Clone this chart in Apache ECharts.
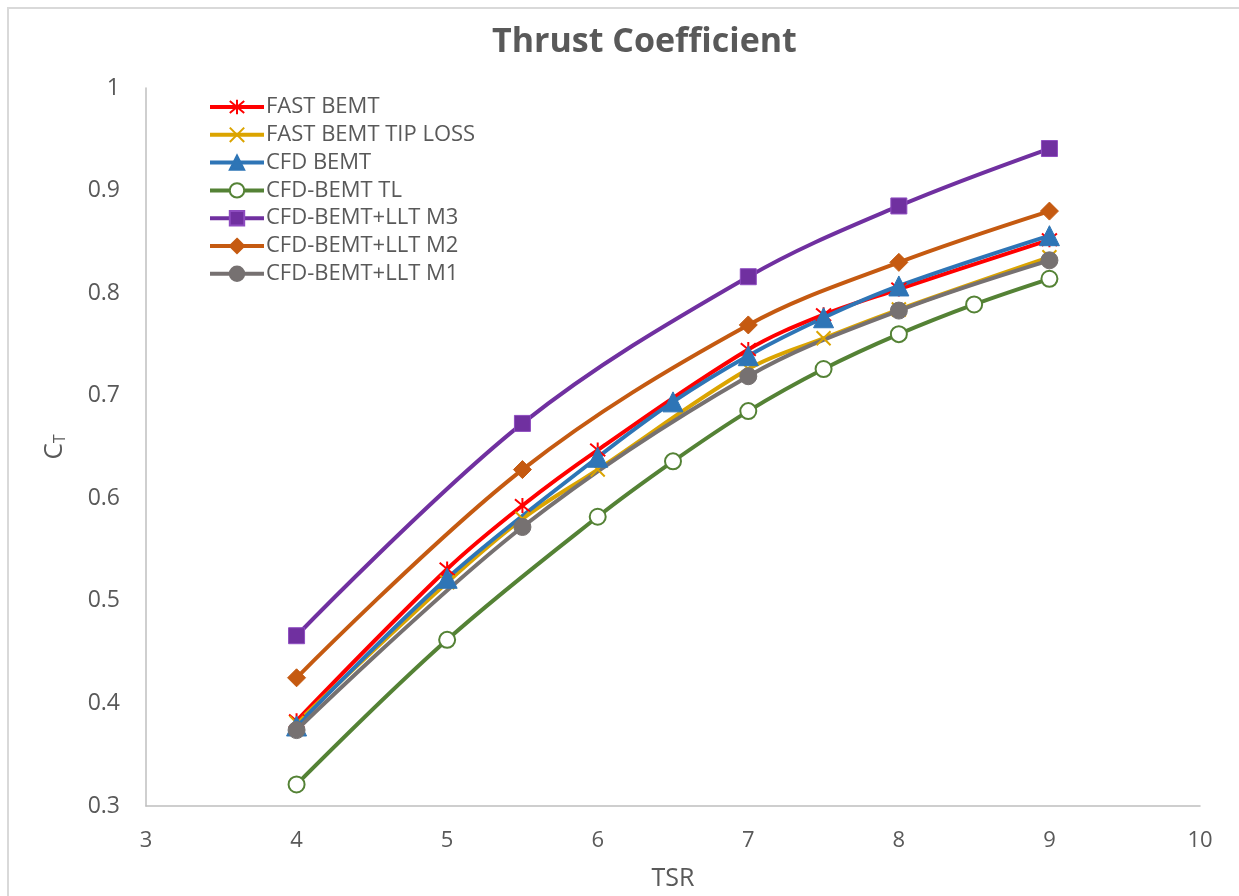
<!DOCTYPE html>
<html>
<head>
<meta charset="utf-8">
<script src="https://cdn.jsdelivr.net/npm/echarts@6/dist/echarts.min.js"></script>
<style>
  html, body { margin: 0; padding: 0; background: #fff; }
  #chart { width: 1239px; height: 896px; }
</style>
</head>
<body>
<div id="chart"></div>
<script>
// Thrust coefficient C_T versus tip speed ratio (TSR)
const fastBemtX = [4, 5, 5.5, 6, 7, 7.5, 8, 9];
const fastBemtY = [0.383, 0.531, 0.593, 0.647, 0.745, 0.779, 0.804, 0.852];

const fastTipLossX = [4, 5, 5.5, 6, 7, 7.5, 8, 9];
const fastTipLossY = [0.381, 0.518, 0.580, 0.628, 0.726, 0.756, 0.784, 0.835];

const cfdBemtX = [4, 5, 6, 6.5, 7, 7.5, 8, 9];
const cfdBemtY = [0.378, 0.522, 0.640, 0.694, 0.739, 0.776, 0.807, 0.856];

const cfdTlX = [4, 5, 6, 6.5, 7, 7.5, 8, 8.5, 9];
const cfdTlY = [0.321, 0.462, 0.582, 0.636, 0.685, 0.726, 0.760, 0.789, 0.814];

const lltM3X = [4, 5.5, 7, 8, 9];
const lltM3Y = [0.466, 0.673, 0.816, 0.885, 0.941];

const lltM2X = [4, 5.5, 7, 8, 9];
const lltM2Y = [0.425, 0.628, 0.769, 0.830, 0.880];

const lltM1X = [4, 5.5, 7, 8, 9];
const lltM1Y = [0.374, 0.572, 0.719, 0.783, 0.832];

const seriesNames = [
  'FAST BEMT',
  'FAST BEMT TIP LOSS',
  'CFD BEMT',
  'CFD-BEMT TL',
  'CFD-BEMT+LLT M3',
  'CFD-BEMT+LLT M2',
  'CFD-BEMT+LLT M1'
];

const pairs = (xs, ys) => xs.map((x, i) => [x, ys[i]]);

const FONT = '"Open Sans", "Liberation Sans", sans-serif';
const TEXT = '#595959';

const STAR = 'path://M0,0L10,10M10,0L0,10M5,-1L5,11';
const CROSS = 'path://M0,0L10,10M10,0L0,10';

function lineSeries(name, data, color, symbol, size, extra) {
  return Object.assign({
    name: name,
    type: 'line',
    data: data,
    smooth: 0.35,
    symbol: symbol,
    symbolSize: size,
    showSymbol: true,
    lineStyle: { color: color, width: 4 },
    itemStyle: { color: color, borderColor: color, borderWidth: 1 },
    emphasis: { disabled: true }
  }, extra || {});
}

const chart = echarts.init(document.getElementById('chart'), null, { renderer: 'canvas' });

chart.setOption({
  animation: false,
  backgroundColor: '#ffffff',
  title: {
    text: 'Thrust Coefficient',
    left: 487,
    top: 20,
    textStyle: { fontFamily: FONT, fontSize: 34, fontWeight: 'bold', color: TEXT }
  },
  graphic: [{
    type: 'rect',
    shape: { x: 8, y: 8, width: 1250, height: 910 },
    style: { fill: 'none', stroke: '#d9d9d9', lineWidth: 2 },
    silent: true
  }],
  legend: {
    orient: 'vertical',
    left: 203,
    top: 91,
    itemWidth: 54,
    itemHeight: 18,
    itemGap: 5.8,
    data: seriesNames,
    lineStyle: { width: 4 },
    textStyle: { fontFamily: FONT, fontSize: 22, lineHeight: 22, color: TEXT, padding: [0, 0, 0, -3] }
  },
  grid: { left: 146, right: 39, top: 88, bottom: 86 },
  xAxis: {
    type: 'value',
    min: 3,
    max: 10,
    interval: 1,
    name: 'TSR',
    nameLocation: 'middle',
    nameGap: 60,
    nameTextStyle: { fontFamily: FONT, fontSize: 25, color: TEXT },
    axisLine: { show: true, lineStyle: { color: '#bfbfbf', width: 1.5 } },
    axisTick: { show: false },
    splitLine: { show: false },
    axisLabel: { fontFamily: FONT, fontSize: 22, color: TEXT, margin: 24 }
  },
  yAxis: {
    type: 'value',
    min: 0.3,
    max: 1,
    interval: 0.1,
    name: '{c|C}{t|T}',
    nameLocation: 'middle',
    nameGap: 78,
    nameRotate: 90,
    nameTextStyle: {
      rich: {
        c: { fontFamily: FONT, fontSize: 26, color: TEXT },
        t: { fontFamily: FONT, fontSize: 16, color: TEXT, verticalAlign: 'bottom', padding: [10, 0, 0, 0] }
      }
    },
    axisLine: { show: true, lineStyle: { color: '#bfbfbf', width: 1.5 } },
    axisTick: { show: false },
    splitLine: { show: false },
    axisLabel: { fontFamily: FONT, fontSize: 23, color: TEXT, margin: 26 }
  },
  series: [
    lineSeries(seriesNames[0], pairs(fastBemtX, fastBemtY), '#ff0000', STAR, 15,
      { itemStyle: { color: '#ff0000', borderColor: '#ff0000', borderWidth: 2 } }),
    lineSeries(seriesNames[1], pairs(fastTipLossX, fastTipLossY), '#dba400', CROSS, 14,
      { itemStyle: { color: '#dba400', borderColor: '#dba400', borderWidth: 2 } }),
    lineSeries(seriesNames[2], pairs(cfdBemtX, cfdBemtY), '#2e75b6', 'triangle', 20),
    lineSeries(seriesNames[3], pairs(cfdTlX, cfdTlY), '#548235', 'emptyCircle', 16,
      { itemStyle: { color: '#548235', borderColor: '#548235', borderWidth: 2 } }),
    lineSeries(seriesNames[4], pairs(lltM3X, lltM3Y), '#7030a0', 'rect', 16,
      { itemStyle: { color: '#7030a0', borderColor: '#8e4cc0', borderWidth: 1 } }),
    lineSeries(seriesNames[5], pairs(lltM2X, lltM2Y), '#c55a11', 'diamond', 18),
    lineSeries(seriesNames[6], pairs(lltM1X, lltM1Y), '#767171', 'circle', 17)
  ]
});
</script>
</body>
</html>
